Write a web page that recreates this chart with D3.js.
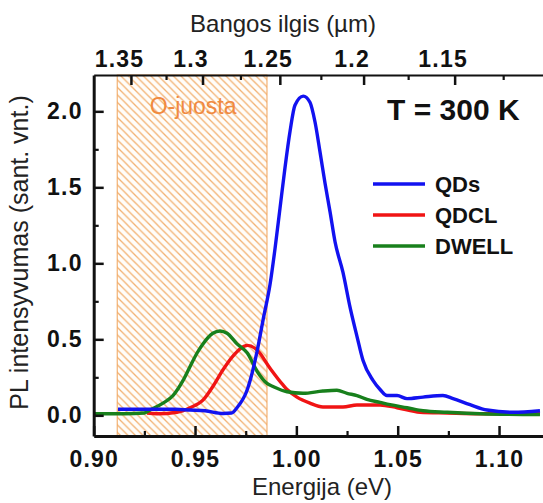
<!DOCTYPE html>
<html>
<head>
<meta charset="utf-8">
<script src="https://cdn.jsdelivr.net/npm/d3@7"></script>
<style>
  body { margin: 0; background: #fff; }
  svg { display: block; }
  text { font-family: "Liberation Sans", Arial, Helvetica, sans-serif; }
</style>
</head>
<body>
<svg id="chart" width="543" height="503"></svg>
<script>
// Photoluminescence spectra at room temperature
const qdsEnergy = [0.912, 0.925, 0.940, 0.9475, 0.955, 0.9638, 0.968, 0.9707, 0.9758, 0.9806, 0.9836, 0.9870, 0.9895, 0.9919, 0.9944, 0.9969, 0.9993, 1.0034, 1.0067, 1.0092, 1.0117, 1.0141, 1.0166, 1.0191, 1.0230, 1.0265, 1.0299, 1.0329, 1.0378, 1.0413, 1.0447, 1.0497, 1.0546, 1.0625, 1.0723, 1.0773, 1.0857, 1.0941, 1.1069, 1.1202];
const qdsValues = [0.04, 0.04, 0.04, 0.035, 0.03, 0.012, 0.015, 0.05, 0.17, 0.42, 0.63, 0.86, 1.10, 1.36, 1.63, 1.87, 2.04, 2.10, 2.06, 1.93, 1.73, 1.53, 1.34, 1.14, 0.94, 0.71, 0.52, 0.36, 0.23, 0.17, 0.13, 0.13, 0.11, 0.12, 0.13, 0.11, 0.07, 0.035, 0.02, 0.03];

const qdclEnergy = [0.9263, 0.9312, 0.9411, 0.9475, 0.9539, 0.9588, 0.9638, 0.9687, 0.9758, 0.9806, 0.9870, 0.9934, 0.9954, 1.0003, 1.0067, 1.0131, 1.0230, 1.0299, 1.0413, 1.0497, 1.0610, 1.0743, 1.0906, 1.1202];
const qdclValues = [0.015, 0.01, 0.02, 0.05, 0.10, 0.19, 0.30, 0.39, 0.46, 0.43, 0.31, 0.20, 0.17, 0.12, 0.08, 0.055, 0.055, 0.068, 0.068, 0.05, 0.02, 0.015, 0.01, 0.01];

const dwellEnergy = [0.900, 0.915, 0.925, 0.9278, 0.9342, 0.9391, 0.9441, 0.9475, 0.9510, 0.9539, 0.9588, 0.9623, 0.9658, 0.9707, 0.9758, 0.9806, 0.9855, 0.9885, 0.9954, 1.0033, 1.0131, 1.0200, 1.0250, 1.0299, 1.0348, 1.0413, 1.0462, 1.0546, 1.0625, 1.0743, 1.0906, 1.1202];
const dwellValues = [0.01, 0.01, 0.015, 0.035, 0.08, 0.13, 0.23, 0.32, 0.41, 0.47, 0.54, 0.555, 0.54, 0.47, 0.41, 0.29, 0.21, 0.19, 0.155, 0.145, 0.16, 0.165, 0.145, 0.13, 0.105, 0.085, 0.07, 0.05, 0.03, 0.02, 0.01, 0.005];

const seriesNames = ["QDs", "QDCL", "DWELL"];
const seriesColors = ["#1212f0", "#f01414", "#18801c"];

// O band (1260–1360 nm) expressed in energy
const oBandEnergy = [0.9116, 0.9855];
const oBandLabel = "O-juosta";

const energyTicks = [0.90, 0.95, 1.00, 1.05, 1.10];
const energyMinorTicks = [0.925, 0.975, 1.025, 1.075, 1.125];
const intensityTicks = [0.0, 0.5, 1.0, 1.5, 2.0];
const intensityMinorTicks = [0.25, 0.75, 1.25, 1.75];
const wavelengthTicks = [1.35, 1.30, 1.25, 1.20, 1.15];
const wavelengthMinorTicks = [1.325, 1.275, 1.225, 1.175, 1.125];
const HC = 1.2398; // eV·µm

const svg = d3.select("#chart");
const plotLeft = 93.7, plotTop = 75, plotBottom = 436;

const x = d3.scaleLinear().domain([0.90, 1.125]).range([plotLeft, plotLeft + 0.225 * 2026.7]);
const y = d3.scaleLinear().domain([-0.136, 2.239]).range([plotBottom, plotTop]);

// hatch pattern
const defs = svg.append("defs");
const s = 7.5;
const pat = defs.append("pattern")
  .attr("id", "hatch").attr("patternUnits", "userSpaceOnUse")
  .attr("width", s).attr("height", s);
pat.append("rect").attr("width", s).attr("height", s).attr("fill", "#fffdfa");
pat.append("path")
  .attr("d", `M-1,${s - 1} l2,2 M0,0 l${s},${s} M${s - 1},-1 l2,2`)
  .attr("stroke", "#f2b070").attr("stroke-width", 1.3);

svg.append("rect")
  .attr("x", x(oBandEnergy[0])).attr("y", plotTop)
  .attr("width", x(oBandEnergy[1]) - x(oBandEnergy[0]))
  .attr("height", plotBottom - plotTop)
  .attr("fill", "url(#hatch)")
  .attr("stroke", "#f0a35a").attr("stroke-width", 1);

svg.append("text")
  .attr("x", (x(oBandEnergy[0]) + x(oBandEnergy[1])) / 2 + 1)
  .attr("y", 114)
  .attr("text-anchor", "middle")
  .attr("font-size", 23)
  .attr("fill", "#f08a40")
  .text(oBandLabel);

// spectra
const lineGen = d3.line().x(d => x(d[0])).y(d => y(d[1])).curve(d3.curveMonotoneX);
const seriesData = [
  d3.zip(qdsEnergy, qdsValues),
  d3.zip(qdclEnergy, qdclValues),
  d3.zip(dwellEnergy, dwellValues)
];
[1, 2, 0].forEach(i => {
  svg.append("path")
    .datum(seriesData[i])
    .attr("d", lineGen)
    .attr("fill", "none")
    .attr("stroke", seriesColors[i])
    .attr("stroke-width", 3.4)
    .attr("stroke-linejoin", "round");
});

// axes: one labelled axis carrying the spine, plus label-less axes for the inward tick marks
const labelAxis = (axis, transform, spineWidth) => {
  const g = svg.append("g").attr("transform", transform).call(axis.tickSizeInner(0).tickSizeOuter(0));
  g.select(".domain").attr("stroke", "#111").attr("stroke-width", spineWidth);
  g.selectAll(".tick line").remove();
  g.selectAll("text")
    .attr("font-size", 23).attr("font-weight", "bold")
    .attr("fill", "#111").attr("letter-spacing", 1.2);
  return g;
};
const markAxis = (axis, transform, len, width) => {
  svg.append("g").attr("transform", transform)
    .call(axis.tickSizeInner(-len).tickSizeOuter(0).tickFormat(""))
    .call(g => {
      g.select(".domain").remove();
      g.selectAll(".tick line").attr("stroke", "#111").attr("stroke-width", width);
    });
};

// bottom energy axis
labelAxis(d3.axisBottom(x).tickValues(energyTicks).tickPadding(15).tickFormat(d3.format(".2f")),
  `translate(0,${plotBottom})`, 3);
markAxis(d3.axisBottom(x).tickValues(energyTicks), `translate(0,${plotBottom})`, 10, 2.5);
markAxis(d3.axisBottom(x).tickValues(energyMinorTicks), `translate(0,${plotBottom})`, 5, 2.2);

// left intensity axis
labelAxis(d3.axisLeft(y).tickValues(intensityTicks).tickPadding(11).tickFormat(d3.format(".1f")),
  `translate(${plotLeft},0)`, 3);
markAxis(d3.axisLeft(y).tickValues(intensityTicks), `translate(${plotLeft},0)`, 10, 2.5);
markAxis(d3.axisLeft(y).tickValues(intensityMinorTicks), `translate(${plotLeft},0)`, 5, 2.2);

// top wavelength axis
const gt = labelAxis(d3.axisTop(x).tickValues(wavelengthTicks.map(l => HC / l)).tickPadding(8)
    .tickFormat(e => String(+(HC / e).toFixed(3))),
  `translate(0,${plotTop})`, 2.2);
gt.selectAll("text").attr("dx", -12);
markAxis(d3.axisTop(x).tickValues(wavelengthTicks.map(l => HC / l)), `translate(0,${plotTop})`, 10, 2.5);
markAxis(d3.axisTop(x).tickValues(wavelengthMinorTicks.map(l => HC / l)), `translate(0,${plotTop})`, 5, 2.2);

// axis titles
svg.append("text")
  .attr("x", 283).attr("y", 32)
  .attr("text-anchor", "middle").attr("font-size", 24).attr("fill", "#222")
  .text("Bangos ilgis (µm)");

svg.append("text")
  .attr("x", 322).attr("y", 495)
  .attr("text-anchor", "middle").attr("font-size", 24).attr("fill", "#222")
  .text("Energija (eV)");

svg.append("text")
  .attr("transform", `translate(28,${(plotTop + plotBottom) / 2 - 3}) rotate(-90)`)
  .attr("text-anchor", "middle").attr("font-size", 25).attr("fill", "#222")
  .text("PL intensyvumas (sant. vnt.)");

// temperature note
svg.append("text")
  .attr("x", 387).attr("y", 120)
  .attr("font-size", 30).attr("font-weight", "bold").attr("fill", "#111")
  .text("T = 300 K");

// legend
const legend = svg.append("g").attr("transform", "translate(373,184)");
seriesNames.forEach((name, i) => {
  const row = legend.append("g").attr("transform", `translate(0,${i * 31})`);
  row.append("line").attr("x1", 0).attr("x2", 52).attr("y1", 0).attr("y2", 0)
    .attr("stroke", seriesColors[i]).attr("stroke-width", 3.4);
  row.append("text").attr("x", 62).attr("y", 0).attr("dy", "0.35em")
    .attr("font-size", 22).attr("font-weight", "bold").attr("fill", "#111")
    .text(name);
});
</script>
</body>
</html>
